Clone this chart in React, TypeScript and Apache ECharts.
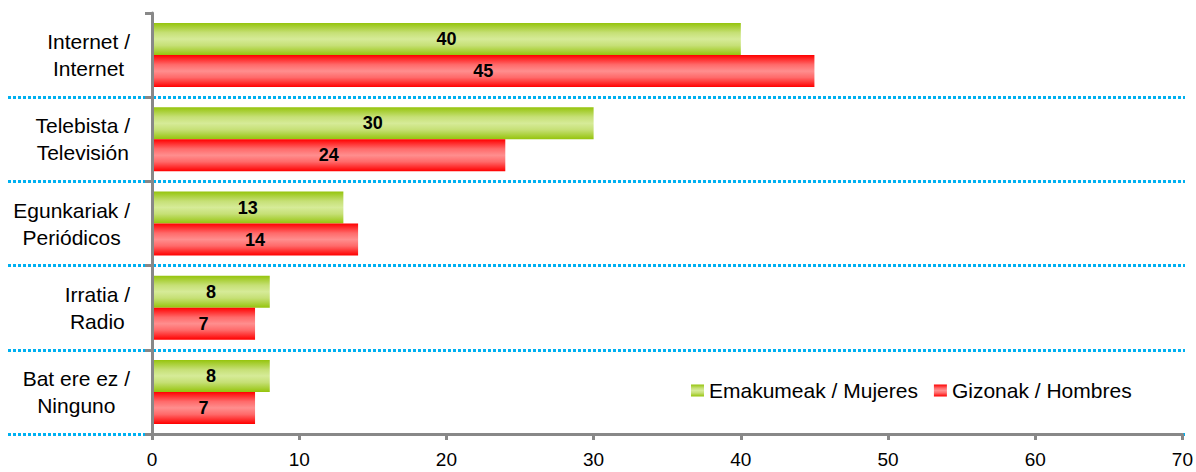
import React, { useEffect, useRef } from "react";
import * as echarts from "echarts";

const categories = [
  "Internet /\nInternet",
  "Telebista /\nTelevisión",
  "Egunkariak /\nPeriódicos",
  "Irratia /\nRadio",
  "Bat ere ez /\nNinguno",
];
const women = [40, 30, 13, 8, 8];
const men = [45, 24, 14, 7, 7];
const seriesNames = ["Emakumeak / Mujeres", "Gizonak / Hombres"];
const xTicks = { min: 0, max: 70, interval: 10 };

const FONT = "'Liberation Sans', Arial, sans-serif";
const AXIS_COLOR = "#888888";

const greenGrad = new echarts.graphic.LinearGradient(0, 0, 0, 1, [
  { offset: 0, color: "#95c40c" },
  { offset: 0.3, color: "#c6e076" },
  { offset: 0.5, color: "#d6eb98" },
  { offset: 0.7, color: "#c6e076" },
  { offset: 1, color: "#95c40c" },
]);
const redGrad = new echarts.graphic.LinearGradient(0, 0, 0, 1, [
  { offset: 0, color: "#ff0000" },
  { offset: 0.3, color: "#ff6a6a" },
  { offset: 0.5, color: "#ff8e8e" },
  { offset: 0.7, color: "#ff6a6a" },
  { offset: 1, color: "#ff0000" },
]);

export default function App() {
  const ref = useRef<HTMLDivElement>(null);
  useEffect(() => {
    document.body.style.margin = "0";
    if (!ref.current) return;
    const chart = echarts.init(ref.current, undefined, { renderer: "svg" });
    const labelStyle = {
      show: true,
      position: "inside",
      color: "#000",
      fontWeight: "bold",
      fontSize: 18,
      fontFamily: FONT,
    };
    chart.setOption({
      animation: false,
      backgroundColor: "#fff",
      textStyle: { fontFamily: FONT },
      grid: [
        { left: 152, right: 11, top: 13, bottom: 38 },
        { left: 8, right: 11, top: 13, bottom: 38 },
      ],
      legend: {
        data: seriesNames,
        left: 691,
        top: 380,
        padding: 0,
        icon: "rect",
        itemWidth: 13,
        itemHeight: 12,
        itemGap: 16,
        textStyle: { fontSize: 21, color: "#000", fontFamily: FONT },
      },
      xAxis: [
        {
          type: "value",
          gridIndex: 0,
          min: xTicks.min,
          max: xTicks.max,
          interval: xTicks.interval,
          z: 3,
          axisLine: { show: true, lineStyle: { color: AXIS_COLOR, width: 3 } },
          axisTick: { show: true, length: 6, lineStyle: { color: AXIS_COLOR, width: 3 } },
          splitLine: { show: false },
          axisLabel: { color: "#000", fontSize: 19, margin: 16, fontFamily: FONT },
        },
        { type: "value", gridIndex: 1, min: 0, max: 1, show: false },
      ],
      yAxis: [
        {
          type: "category",
          gridIndex: 0,
          data: categories,
          inverse: true,
          z: 3,
          axisLine: { show: true, lineStyle: { color: AXIS_COLOR, width: 3 } },
          axisTick: { show: true, length: 7, lineStyle: { color: AXIS_COLOR, width: 3 } },
          axisLabel: {
            align: "right",
            margin: 22,
            formatter: (v: string) =>
              v
                .split("\n")
                .map((l) => `{c|${l}}`)
                .join("\n"),
            rich: {
              c: { align: "center", fontSize: 21, lineHeight: 27, color: "#000", fontFamily: FONT },
            },
          },
        },
        {
          type: "category",
          gridIndex: 1,
          data: categories,
          inverse: true,
          z: 1,
          axisLine: { show: false },
          axisTick: { show: false },
          axisLabel: { show: false },
          splitLine: {
            show: true,
            showMinLine: false,
            lineStyle: { color: "#00B0F0", width: 3, type: [3, 2] },
          },
        },
      ],
      series: [
        {
          name: seriesNames[0],
          type: "bar",
          xAxisIndex: 0,
          yAxisIndex: 0,
          data: women,
          barWidth: 32,
          barGap: "0%",
          itemStyle: { color: greenGrad },
          label: labelStyle,
        },
        {
          name: seriesNames[1],
          type: "bar",
          xAxisIndex: 0,
          yAxisIndex: 0,
          data: men,
          barWidth: 32,
          barGap: "0%",
          itemStyle: { color: redGrad },
          label: labelStyle,
        },
      ],
    });
    return () => chart.dispose();
  }, []);
  return <div ref={ref} style={{ width: 1196, height: 472 }} />;
}
